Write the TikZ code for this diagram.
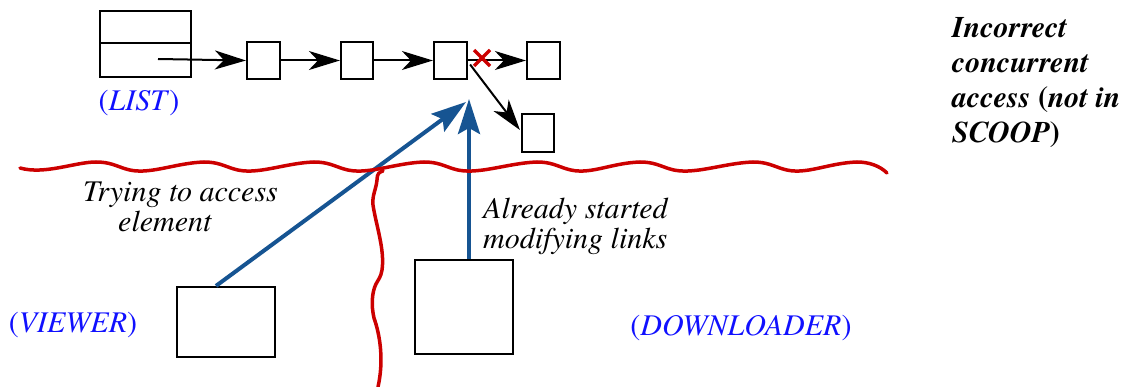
\documentclass[tikz,border=0pt]{standalone}
\usepackage{fontspec}
\newfontfamily\timesfont{texgyretermes}[Extension=.otf,UprightFont=*-regular,ItalicFont=*-italic,BoldFont=*-bold,BoldItalicFont=*-bolditalic]
\usetikzlibrary{arrows.meta,calc}
\definecolor{wavered}{RGB}{204,0,0}
\definecolor{arrowblue}{RGB}{22,84,146}
\definecolor{labelblue}{RGB}{16,16,255}
\begin{document}
\begin{tikzpicture}[x=1pt,y=-1pt,
  cell/.style={draw,line width=2.2pt,inner sep=0pt,minimum width=#1},
  cell/.default=33pt,
  link/.style={line width=2pt,-{Stealth[length=31pt,width=19pt,inset=9pt]}},
  access/.style={arrowblue,line width=4pt,-{Stealth[length=35pt,width=22pt,inset=6pt]}},
  redwave/.style={wavered,line width=3.5pt,line cap=round,line join=round},
  lbl/.style={labelblue,inner sep=0pt,font=\timesfont\fontsize{30}{30}\selectfont},
  note/.style={inner sep=0pt,font=\timesfont\fontsize{30}{30}\selectfont\itshape,align=left}
]
\useasboundingbox (0,0) rectangle (1122,387);

% list header
\node[cell=91pt,minimum height=32pt] (listtop) at (145.5,27) {};
\node[cell=91pt,minimum height=34pt] (listbot) at (145.5,60) {};
% list cells
\node[cell,minimum height=37pt] (n1) at (263.5,60.5) {};
\node[cell=32pt,minimum height=37pt] (n2) at (357,60.5) {};
\node[cell,minimum height=37pt] (n3) at (450.5,60.5) {};
\node[cell,minimum height=37pt] (n4) at (543.5,60.5) {};
\node[cell=32pt,minimum height=38pt] (n5) at (538,133) {};

\coordinate (lstart) at ($(listbot.center)+(12.5,-1)$);
\draw[link] (lstart) -- (n1.west);
\draw[link] (n1.east) -- (n2.west);
\draw[link] (n2.east) -- (n3.west);
\draw[link] (n3.east) -- (n4.west);
\draw[link] ($(n3.east)+(2,4)$) -- ($(n5.west)+(-1,-3)$);

% red cross
\coordinate (cut) at (482,58);
\draw[wavered,line width=3.2pt] ($(cut)+(-8,-8)$) -- ($(cut)+(8,8)$)
                                 ($(cut)+(-8,8)$) -- ($(cut)+(8,-8)$);

% processors
\node[cell=98pt,minimum height=70pt] (viewer) at (226,322) {};
\node[cell=98pt,minimum height=94pt] (dl) at (464,307) {};

\coordinate (hitA) at (466,102);
\coordinate (hitB) at (469,99);
\draw[access] ($(viewer.north)+(-10,0)$) -- (hitA);
\draw[access] ($(dl.north)+(5,0)$) -- (hitB);

% separators
\draw[redwave] (20,168) .. controls (45,175) and (75,162) .. (96,162)
  foreach \p/\q in {96/204,204/314,314/424,424/537,537/640,640/753,753/857}
  { .. controls ({\p+14},162) and ({\p+20},166) .. ({\p+30},169)
    .. controls ({\p+52},176) and ({\q-30},163) .. (\q,162) }
  .. controls (869,162) and (880,166) .. (887,173);
\draw[redwave] (383,171) .. controls (379,172) and (377,174) .. (377,180)
  .. controls (376,190) and (372,195) .. (373,205)
  .. controls (376,225) and (385,250) .. (382,270)
  .. controls (381,277) and (378,280) .. (376,284)
  .. controls (372,292) and (371,305) .. (374,318)
  .. controls (380,335) and (384,360) .. (378,387);

% labels
\node[lbl] (listlbl) at (139,103) {(\textit{LIST})};
\node[lbl] (viewerlbl) at (73,325) {(\textit{VIEWER})};
\node[lbl] (dllbl) at (741,328) {(\textit{DOWNLOADER})};
\node[note,anchor=west] (trying) at (83,207) {Trying to access\\\hspace*{35pt}element};
\node[note,anchor=west] (already) at (483,226) {Already started\\modifying links};
\node[inner sep=0pt,anchor=north west,align=left,
      font=\timesfont\fontsize{30}{35}\selectfont\bfseries] (title) at (952,17)
  {\textit{Incorrect}\\\textit{concurrent}\\\textit{access} (\textit{not in}\\\textit{SCOOP})};
\end{tikzpicture}
\end{document}
